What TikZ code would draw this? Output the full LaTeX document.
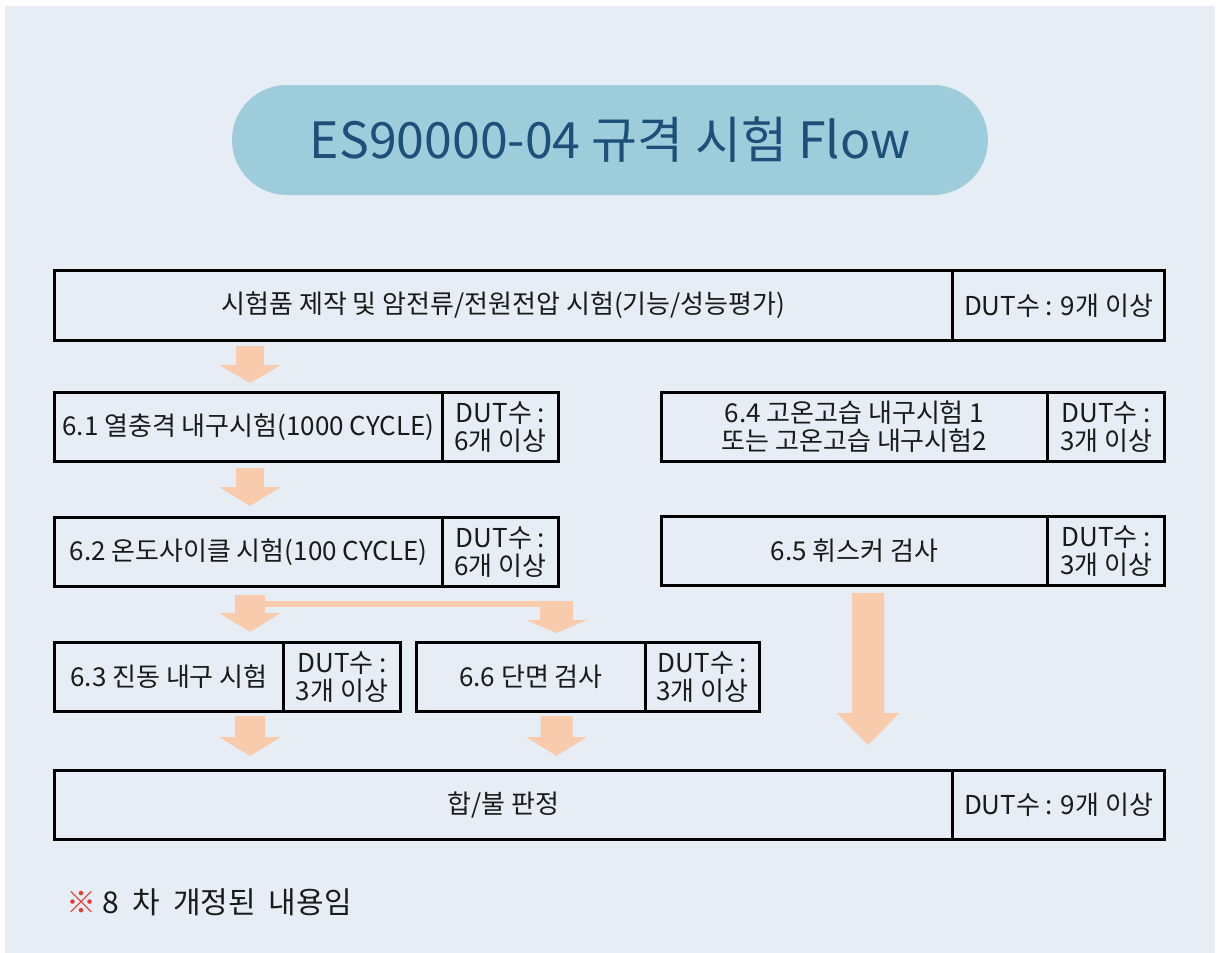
\documentclass[tikz,border=0pt]{standalone}
\usepackage{fontspec}
\setmainfont{Noto Sans CJK KR}
\usetikzlibrary{calc}
\definecolor{bgc}{HTML}{E7EDF5}
\definecolor{pillc}{HTML}{9DCCDB}
\definecolor{titlec}{HTML}{1F4E79}
\definecolor{arrc}{HTML}{F8CBAD}
\definecolor{txtc}{HTML}{1A1A1A}
\definecolor{notec}{HTML}{E03C31}
% cx, top, head base, tip, shaft half width, head half width
\newcommand\blockarrow[6]{%
  \fill[arrc] ({#1-#5},#2) -- ({#1+#5},#2) -- ({#1+#5},#3) -- ({#1+#6},#3)
    -- (#1,#4) -- ({#1-#6},#3) -- ({#1-#5},#3) -- cycle;}
\newcommand\wsp{\hspace{13pt}}
\tikzset{
  box/.style={draw=black, line width=3pt, anchor=north west, inner sep=0pt,
    align=center, text=txtc, font=\fontsize{26}{28}\selectfont},
}
\begin{document}
\begin{tikzpicture}[x=1pt,y=-1pt]
\useasboundingbox (0,0) rectangle (1219,953);
\fill[white] (0,0) rectangle (1219,953);
\fill[bgc] (5,6) rectangle (1215,953);

% title
\node[fill=pillc, rounded corners=55pt, minimum width=756pt, minimum height=110pt,
  inner sep=0pt, text=titlec, font=\fontsize{50}{58}\selectfont] (title) at (610,140)
  {ES90000-04 규격 시험 Flow};

% row 1
\node[box, minimum width=898pt, minimum height=70pt] (b1) at (53,269) {시험품 제작 및 암전류/전원전압 시험(기능/성능평가)};
\node[box, minimum width=212pt, minimum height=70pt] (d1) at (951,269) {DUT수 : 9개 이상};

% 6.1
\node[box, minimum width=388pt, minimum height=69pt] (n61) at (53,391) {6.1 열충격 내구시험(1000 CYCLE)};
\node[box, minimum width=116pt, minimum height=69pt] (d61) at (441,391) {DUT수 :\\6개 이상};
% 6.2
\node[box, minimum width=388pt, minimum height=69pt] (n62) at (53,516) {6.2 온도사이클 시험(100 CYCLE)};
\node[box, minimum width=116pt, minimum height=69pt] (d62) at (441,516) {DUT수 :\\6개 이상};
% 6.3
\node[box, minimum width=229pt, minimum height=69pt] (n63) at (53,641) {6.3 진동 내구 시험};
\node[box, minimum width=117pt, minimum height=69pt] (d63) at (282,641) {DUT수 :\\3개 이상};
% 6.6
\node[box, minimum width=229pt, minimum height=69pt] (n66) at (415,641) {6.6 단면 검사};
\node[box, minimum width=114pt, minimum height=69pt] (d66) at (644,641) {DUT수 :\\3개 이상};
% 6.4
\node[box, minimum width=386pt, minimum height=69pt] (n64) at (660,391) {6.4 고온고습 내구시험 1\\또는 고온고습 내구시험2};
\node[box, minimum width=117pt, minimum height=69pt] (d64) at (1046,391) {DUT수 :\\3개 이상};
% 6.5
\node[box, minimum width=386pt, minimum height=69pt] (n65) at (660,515) {6.5 휘스커 검사};
\node[box, minimum width=117pt, minimum height=69pt] (d65) at (1046,515) {DUT수 :\\3개 이상};
% final
\node[box, minimum width=898pt, minimum height=69pt] (fin) at (53,769) {합/불 판정};
\node[box, minimum width=212pt, minimum height=69pt] (dfin) at (951,769) {DUT수 : 9개 이상};

% arrows
\blockarrow{250}{346}{365}{383}{14}{31}
\blockarrow{250}{468}{487}{506}{14}{31}
\blockarrow{250}{595}{613}{632}{15}{31}
\fill[arrc] (264,601) rectangle (573,607);
\blockarrow{556.5}{601}{620}{633}{16.5}{30.5}
\blockarrow{250}{716}{737}{756}{15}{31}
\blockarrow{556.5}{716}{737}{756}{16}{30.5}
\blockarrow{868}{593}{713}{745}{16}{31.5}

% note
\node[anchor=west, inner sep=0pt, font=\fontsize{30}{34}\selectfont, text=txtc] (note) at (66,902)
  {\textcolor{notec}{※} 8\wsp{}차\wsp{}개정된\wsp{}내용임};
\end{tikzpicture}
\end{document}
